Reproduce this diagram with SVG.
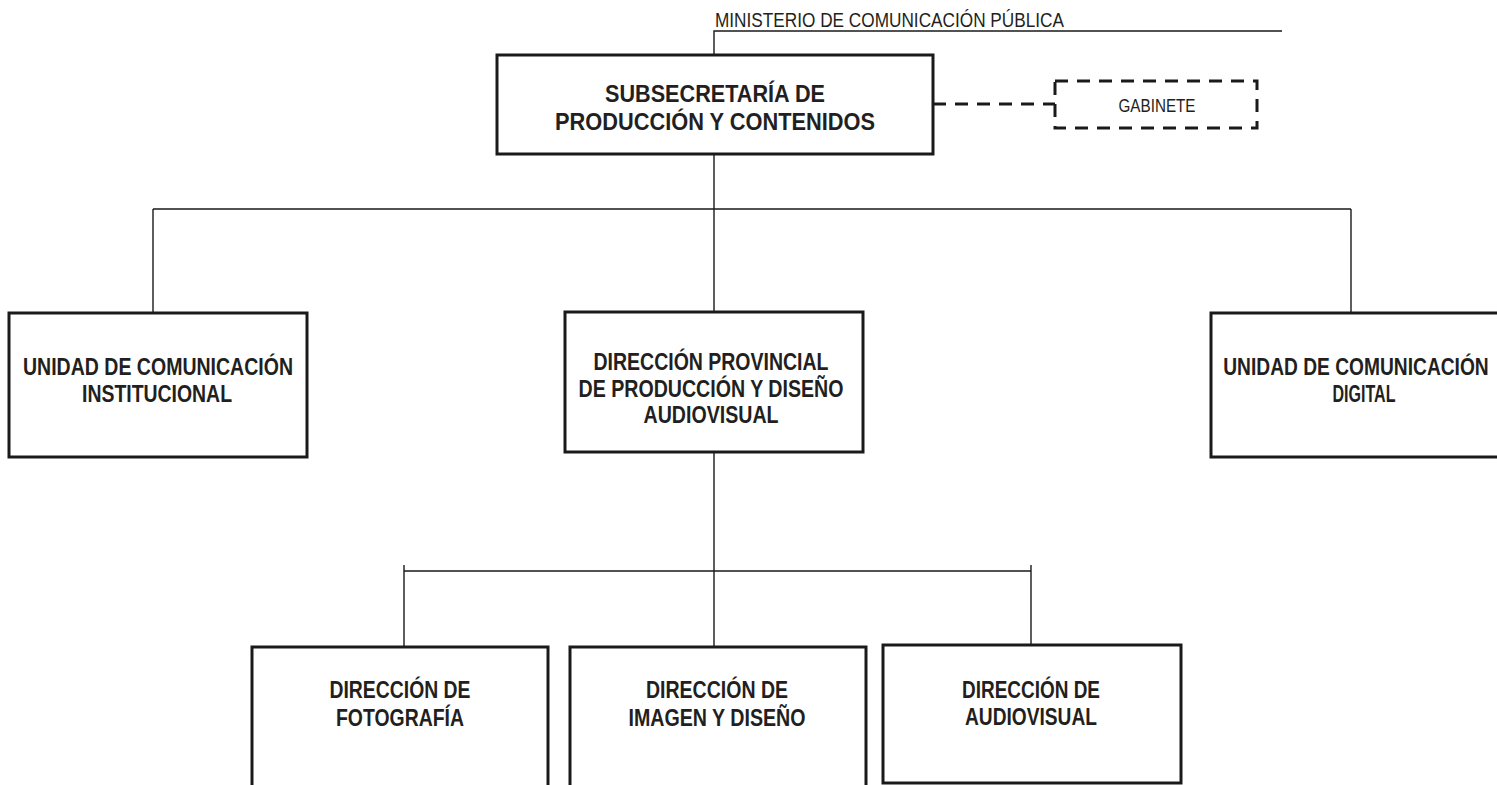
<svg xmlns="http://www.w3.org/2000/svg" width="1497" height="785" viewBox="0 0 1497 785">
<style>
.box{fill:#fff;stroke:#1a1a1a;stroke-width:3}
.dash{fill:none;stroke:#1a1a1a;stroke-width:3;stroke-dasharray:13 9}
.con{fill:none;stroke:#1a1a1a;stroke-width:1.4}
.t{font-family:"Liberation Sans",Arial,sans-serif;font-weight:bold;font-size:23px;fill:#231f20;text-anchor:middle}
.tl{font-family:"Liberation Sans",Arial,sans-serif;font-size:20px;fill:#231f20}
.tg{font-family:"Liberation Sans",Arial,sans-serif;font-size:18px;fill:#231f20;text-anchor:middle}
</style>
<rect width="1497" height="785" fill="#fff"/>
<g id="connectors">
<path class="con" d="M714 55V31H1282"/>
<path class="con" d="M714 154V209M153 209H1351M153 209V313M714 209V312M1351 209V313"/>
<path class="con" d="M714 452V647M404 571H1031M404 565V647M1031 565V645"/>
<path class="dash" d="M933 104H1055"/>
</g>
<g id="ministerio">
<text class="tl" x="715" y="27" textLength="349" lengthAdjust="spacingAndGlyphs">MINISTERIO DE COMUNICACIÓN PÚBLICA</text>
</g>
<g id="subsecretaria">
<rect class="box" x="497" y="55" width="436" height="99"/>
<text class="t" x="715" y="102" font-size="24" textLength="220" lengthAdjust="spacingAndGlyphs">SUBSECRETARÍA DE</text>
<text class="t" x="715" y="130" font-size="24" textLength="320" lengthAdjust="spacingAndGlyphs">PRODUCCIÓN Y CONTENIDOS</text>
</g>
<g id="gabinete">
<rect class="dash" x="1055" y="81" width="202" height="47"/>
<text class="tg" x="1157" y="112" textLength="77" lengthAdjust="spacingAndGlyphs">GABINETE</text>
</g>
<g id="unidad-institucional">
<rect class="box" x="9" y="313" width="298" height="144"/>
<text class="t" x="158" y="375" textLength="270" lengthAdjust="spacingAndGlyphs">UNIDAD DE COMUNICACIÓN</text>
<text class="t" x="157" y="402" textLength="150" lengthAdjust="spacingAndGlyphs">INSTITUCIONAL</text>
</g>
<g id="direccion-provincial">
<rect class="box" x="565" y="312" width="298" height="140"/>
<text class="t" x="711" y="370" textLength="235" lengthAdjust="spacingAndGlyphs">DIRECCIÓN PROVINCIAL</text>
<text class="t" x="711" y="397" textLength="265" lengthAdjust="spacingAndGlyphs">DE PRODUCCIÓN Y DISEÑO</text>
<text class="t" x="711" y="423" textLength="135" lengthAdjust="spacingAndGlyphs">AUDIOVISUAL</text>
</g>
<g id="unidad-digital">
<rect class="box" x="1211" y="313" width="300" height="144"/>
<text class="t" transform="translate(1356 375) scale(0.835 1)" x="0" y="0">UNIDAD DE COMUNICACIÓN</text>
<text class="t" x="1364" y="402" textLength="63" lengthAdjust="spacingAndGlyphs">DIGITAL</text>
</g>
<g id="fotografia">
<rect class="box" x="252" y="647" width="296" height="160"/>
<text class="t" x="400" y="698" textLength="141" lengthAdjust="spacingAndGlyphs">DIRECCIÓN DE</text>
<text class="t" x="400" y="726" textLength="128" lengthAdjust="spacingAndGlyphs">FOTOGRAFÍA</text>
</g>
<g id="imagen-diseno">
<rect class="box" x="570" y="647" width="296" height="160"/>
<text class="t" x="717" y="698" textLength="142" lengthAdjust="spacingAndGlyphs">DIRECCIÓN DE</text>
<text class="t" x="717" y="726" textLength="177" lengthAdjust="spacingAndGlyphs">IMAGEN Y DISEÑO</text>
</g>
<g id="audiovisual">
<rect class="box" x="883" y="645" width="298" height="138"/>
<text class="t" x="1031" y="698" textLength="138" lengthAdjust="spacingAndGlyphs">DIRECCIÓN DE</text>
<text class="t" x="1031" y="725" textLength="132" lengthAdjust="spacingAndGlyphs">AUDIOVISUAL</text>
</g>
</svg>
